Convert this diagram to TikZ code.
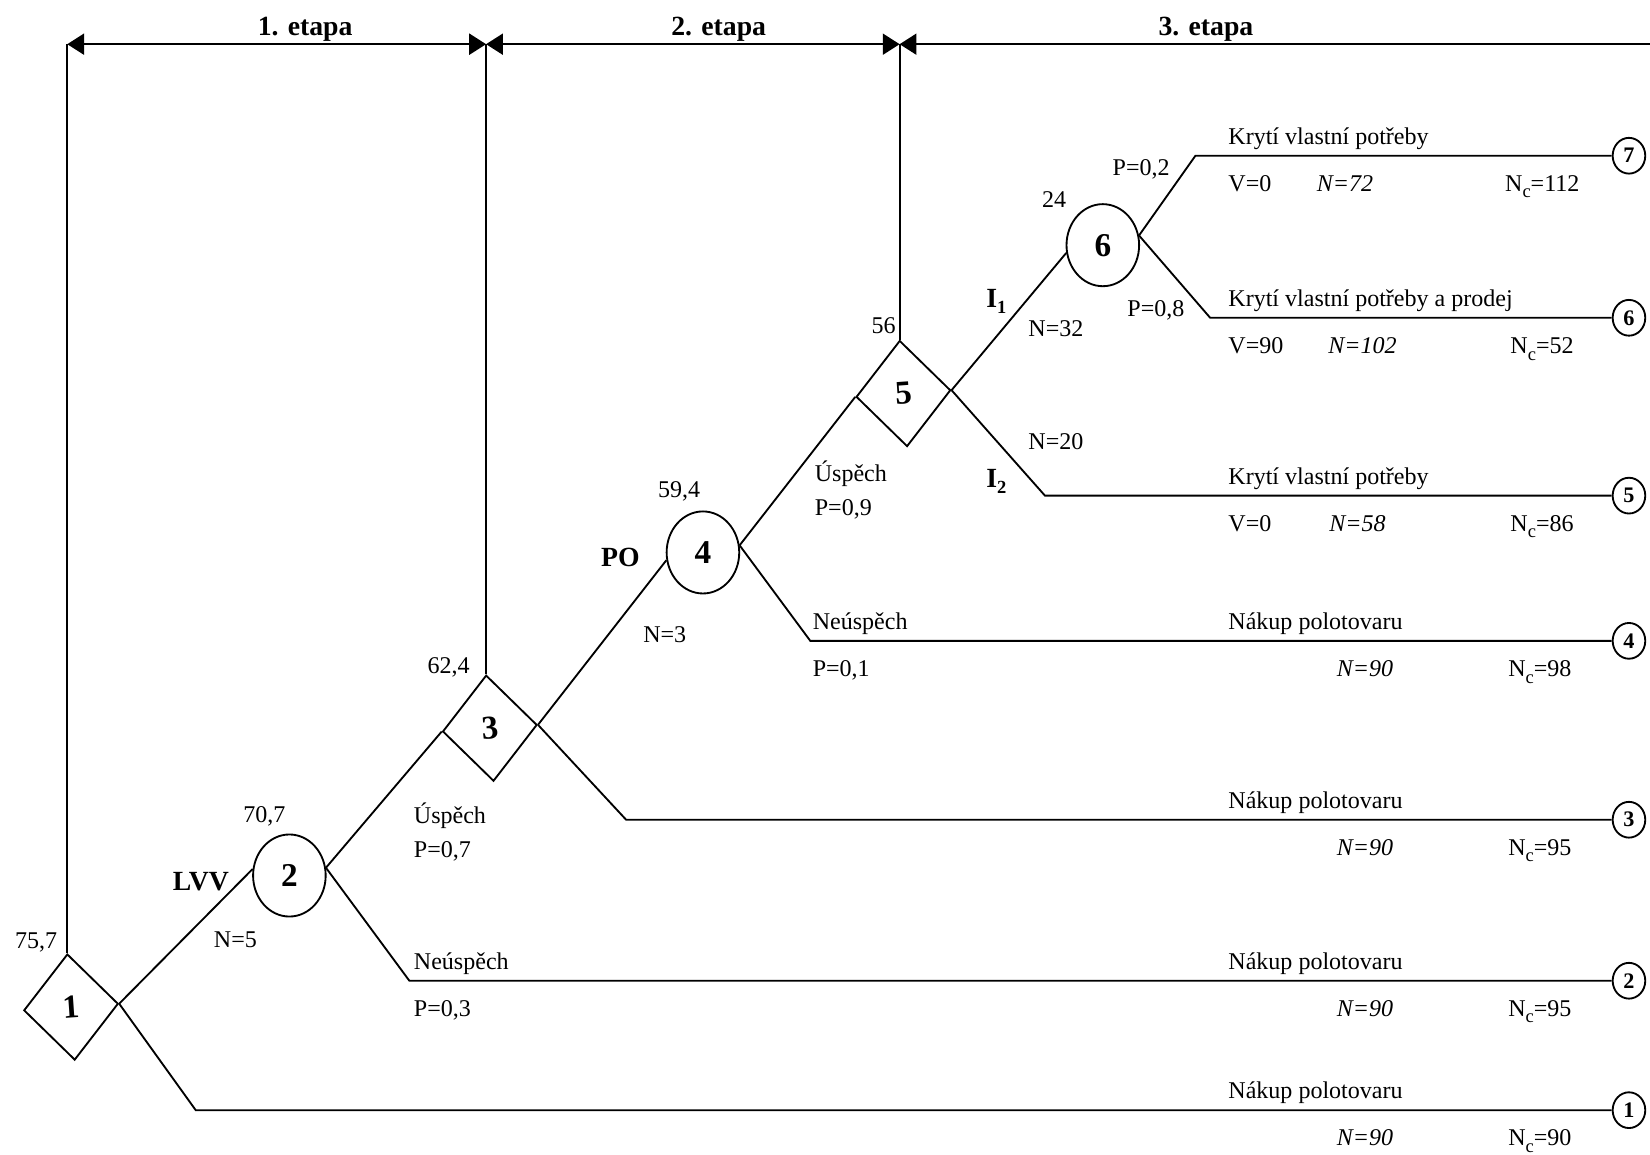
\documentclass[tikz,border=0pt]{standalone}
\usepackage{fontspec}
\setmainfont{Liberation Serif}
\usetikzlibrary{shapes.geometric,arrows.meta}
\def\lowidx#1{\raisebox{-3.5pt}{\fontsize{10}{10}\selectfont #1}}
\def\Nc{N\lowidx{c}}
\tikzset{decision/.style={diamond, draw, line width=1pt, inner sep=0pt, minimum width=1.8cm, minimum height=2.02cm, rotate=4, font=\fontsize{18}{18}\selectfont\bfseries},
	chance/.style={ellipse, draw, line width=1pt, inner sep=0pt, minimum width=1.38cm, minimum height=1.56cm, font=\fontsize{18}{18}\selectfont\bfseries},
	outcome/.style={ellipse, draw, line width=1pt, inner sep=0pt, minimum width=0.62cm, minimum height=0.68cm, font=\fontsize{12}{12}\selectfont\bfseries},
	txt/.style={anchor=base west, inner sep=0pt, font=\fontsize{13}{16}\selectfont},
	boldtxt/.style={anchor=base west, inner sep=0pt, font=\fontsize{15}{18}\selectfont\bfseries},
	branch/.style={line width=1pt},
	stage/.style={line width=1pt, {Triangle[length=0.32cm,width=0.4cm]}-{Triangle[length=0.32cm,width=0.4cm]}}}

\begin{document}
\begin{tikzpicture}[x=0.02cm, y=-0.02cm]
		\useasboundingbox (0,0) rectangle (1568,1097);
		% decision and chance nodes
		\node[decision] (d1) at (67.5,957) {1};
		\node[chance] (c2) at (275,832) {2};
		\node[decision] (d3) at (465.5,692) {3};
		\node[chance] (c4) at (668,525) {4};
		\node[decision] (d5) at (858.5,374) {5};
		\node[chance] (c6) at (1048,233) {6};
		\foreach \y/\k in {148/7, 302/6, 471/5, 609/4, 779/3, 932/2, 1055/1}
			\node[outcome] (o\k) at (1548,\y) {\k};
		
		\coordinate (k1) at (186,1055);
		\coordinate (k2) at (389,932);
		\coordinate (k3) at (595,779);
		\coordinate (k4) at (770,609);
		\coordinate (k5) at (993,471);
		\coordinate (k6) at (1150,302);
		\coordinate (k7) at (1136,148);
		\draw[branch] (d1.east) -- (c2.170);
		\draw[branch] (d1.east) -- (k1) -- (o1);
		\draw[branch] (c2.12) -- (d3.west);
		\draw[branch] (c2.12) -- (k2) -- (o2);
		\draw[branch] (d3.east) -- (c4.192);
		\draw[branch] (d3.east) -- (k3) -- (o3);
		\draw[branch] (c4.11) -- (d5.west);
		\draw[branch] (c4.11) -- (k4) -- (o4);
		\draw[branch] (d5.east) -- (c6.192);
		\draw[branch] (d5.east) -- (k5) -- (o5);
		\draw[branch] (c6.15) -- (k7) -- (o7);
		\draw[branch] (c6.15) -- (k6) -- (o6);
		
		% stages
		\coordinate (top) at (0,42);
		\coordinate (topend) at (1568,42);
		\draw[branch] (d1.north) -- (d1.north |- top);
		\draw[branch] (d3.north) -- (d3.north |- top);
		\draw[branch] (d5.north) -- (d5.north |- top);
		\draw[stage] (d1.north |- top) -- (d3.north |- top);
		\draw[stage] (d3.north |- top) -- (d5.north |- top);
		\draw[line width=1pt, {Triangle[length=0.32cm,width=0.4cm]}-] (d5.north |- top) -- (topend);
		\node[boldtxt, anchor=base] (e1) at (290,34) {1. etapa};
		\node[boldtxt, anchor=base] (e2) at (683,34) {2. etapa};
		\node[boldtxt, anchor=base] (e3) at (1146,34) {3. etapa};
		
		% values and branch labels
		\node[txt] (v1) at (14,901) {75,7};
		\node[txt] (v2) at (231,782) {70,7};
		\node[txt] (v3) at (406,640) {62,4};
		\node[txt] (v4) at (625,473) {59,4};
		\node[txt] (v5) at (828,317) {56};
		\node[txt] (v6) at (990,197) {24};
		\node[boldtxt] (lvv) at (164,846) {LVV};
		\node[boldtxt] (po) at (571,538) {PO};
		\node[boldtxt] (i1) at (937,292) {I\lowidx{1}};
		\node[boldtxt] (i2) at (937,463) {I\lowidx{2}};
		\node[txt] (n2) at (203,900) {N=5};
		\node[txt] (n4) at (611,611) {N=3};
		\node[txt] (n6) at (977,320) {N=32};
		\node[txt] (n5) at (977,427) {N=20};
		\node[txt] (u3) at (393,783) {Úspěch};
		\node[txt] (p3) at (393,815) {P=0,7};
		\node[txt] (f3) at (393,921) {Neúspěch};
		\node[txt] (q3) at (393,966) {P=0,3};
		\node[txt] (u5) at (774,458) {Úspěch};
		\node[txt] (p5) at (774,490) {P=0,9};
		\node[txt] (f5) at (772,598) {Neúspěch};
		\node[txt] (q5) at (772,643) {P=0,1};
		\node[txt] (p7) at (1057,167) {P=0,2};
		\node[txt] (p6) at (1071,301) {P=0,8};
		
		% outcome texts
		\node[txt] (t7) at (1167,137) {Krytí vlastní potřeby};
		\node[txt] (w7) at (1167,182) {V=0};
		\node[txt] (m7) at (1251,182) {\textit{N=72}};
		\node[txt] (r7) at (1430,182) {\Nc=112};
		\node[txt] (t6) at (1167,291) {Krytí vlastní potřeby a prodej};
		\node[txt] (w6) at (1167,336) {V=90};
		\node[txt] (m6) at (1262,336) {\textit{N=102}};
		\node[txt] (r6) at (1435,336) {\Nc=52};
		\node[txt] (t5) at (1167,460) {Krytí vlastní potřeby};
		\node[txt] (w5) at (1167,505) {V=0};
		\node[txt] (m5) at (1263,505) {\textit{N=58}};
		\node[txt] (r5) at (1435,505) {\Nc=86};
		\node[txt] (t4) at (1167,598) {Nákup polotovaru};
		\node[txt] (m4) at (1270,643) {\textit{N=90}};
		\node[txt] (r4) at (1433,643) {\Nc=98};
		\node[txt] (t3) at (1167,768) {Nákup polotovaru};
		\node[txt] (m3) at (1270,813) {\textit{N=90}};
		\node[txt] (r3) at (1433,813) {\Nc=95};
		\node[txt] (t2) at (1167,921) {Nákup polotovaru};
		\node[txt] (m2) at (1270,966) {\textit{N=90}};
		\node[txt] (r2) at (1433,966) {\Nc=95};
		\node[txt] (t1) at (1167,1044) {Nákup polotovaru};
		\node[txt] (m1) at (1270,1089) {\textit{N=90}};
		\node[txt] (r1) at (1433,1089) {\Nc=90};
		\end{tikzpicture}
\end{document}
